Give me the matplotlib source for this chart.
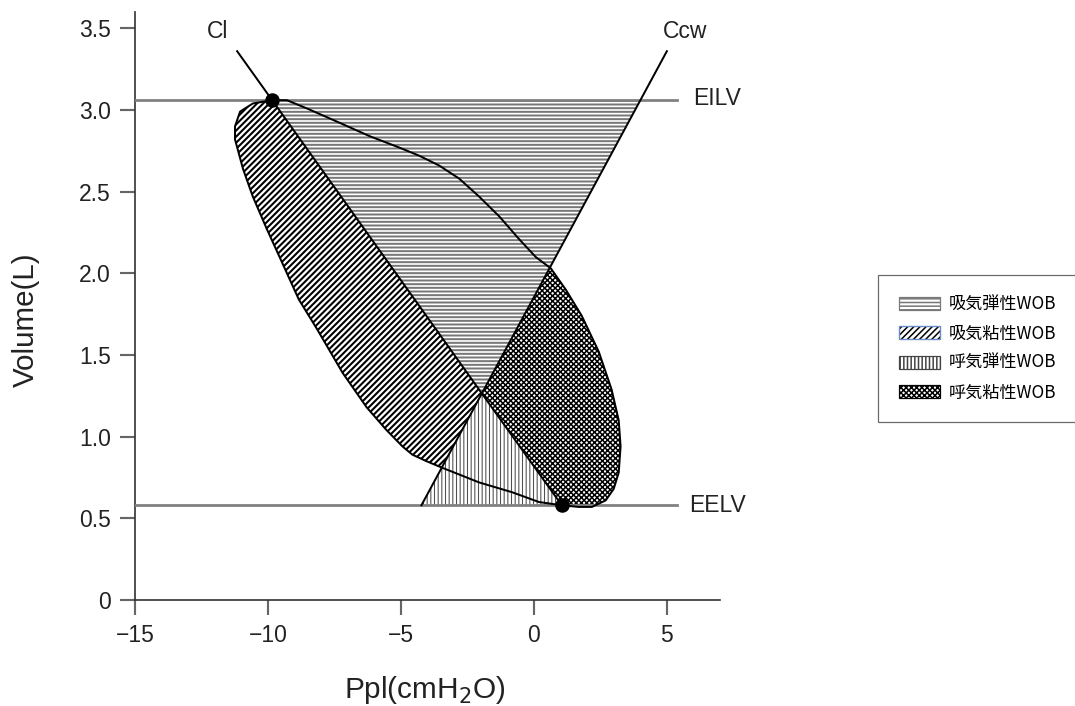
import matplotlib
matplotlib.use("Agg")
import matplotlib.pyplot as plt
from matplotlib.patches import Polygon, Patch
import numpy as np

plt.rcParams['font.family'] = ['Liberation Sans', 'DejaVu Sans']

# lung volume levels (L)
EILV = 3.06
EELV = 0.58

# compliance lines: two points each (Ppl, Volume)
cl_x = [-11.16, 1.05]
cl_v = [3.36, 0.58]
ccw_x = [-4.23, 5.0]
ccw_v = [0.58, 3.36]

# inspiratory limb, from end-expiration up to end-inspiration
insp_x = [1.05, 0.19, -0.82, -2.06, -3.45, -4.04, -4.57, -4.94, -5.54, -6.29,
          -7.19, -8.16, -8.84, -9.48, -10.04, -10.57, -10.94, -11.24, -11.24,
          -11.05, -10.57, -9.85]
insp_v = [0.58, 0.60, 0.66, 0.72, 0.81, 0.85, 0.89, 0.94, 1.04, 1.18,
          1.39, 1.66, 1.84, 2.07, 2.27, 2.47, 2.64, 2.82, 2.90,
          2.99, 3.04, 3.06]

# expiratory limb, from end-inspiration back down to end-expiration
exp_x = [-9.85, -9.29, -8.54, -7.42, -6.18, -5.06, -4.31, -3.56, -2.81, -2.06,
         -1.31, -0.56, 0.07, 0.64, 1.20, 1.80, 2.44, 2.92, 3.19, 3.26,
         3.19, 3.00, 2.70, 2.18, 1.69, 1.05]
exp_v = [3.06, 3.06, 3.01, 2.93, 2.84, 2.77, 2.72, 2.66, 2.58, 2.47,
         2.35, 2.21, 2.10, 2.03, 1.90, 1.74, 1.52, 1.29, 1.10, 0.94,
         0.78, 0.68, 0.61, 0.57, 0.57, 0.58]

legend_labels = ['吸気弾性WOB', '吸気粘性WOB', '呼気弾性WOB', '呼気粘性WOB']

x_ticks = [-15, -10, -5, 0, 5]
y_ticks = [0, 0.5, 1.0, 1.5, 2.0, 2.5, 3.0, 3.5]
y_ticklabels = ['0', '0.5', '1.0', '1.5', '2.0', '2.5', '3.0', '3.5']

# hatch styles: (pattern, colour, hatch line width)
H_INSP_EL = ('-----', '#777777', 1.3)
H_INSP_RES = ('//////', 'black', 1.35)
H_EXP_EL = ('|||||', '#505050', 0.7)
H_EXP_RES = ('xxxxxxx', 'black', 1.0)


def line_coef(xs, vs):
    slope = (vs[1] - vs[0]) / (xs[1] - xs[0])
    return slope, vs[0] - slope * xs[0]


def meet(a, b):
    # intersection of two lines given as (slope, intercept)
    x = (b[1] - a[1]) / (a[0] - b[0])
    return x, a[0] * x + a[1]


def on_level(a, v):
    return (v - a[1]) / a[0], v


def with_hatch_lw(p, hlw):
    if hasattr(p, 'set_hatch_linewidth'):
        p.set_hatch_linewidth(hlw)
    return p


def hatched(ax, pts, style, z):
    hatch, color, hlw = style
    with plt.rc_context({'hatch.linewidth': hlw}):
        p = Polygon(pts, closed=True, facecolor='white', edgecolor=color,
                    hatch=hatch, linewidth=0, zorder=z)
    ax.add_patch(with_hatch_lw(p, hlw))
    return p


def proxy(style, lw=0.8, edge=None):
    hatch, color, hlw = style
    with plt.rc_context({'hatch.linewidth': hlw}):
        p = Patch(facecolor='white', edgecolor=edge or color, hatch=hatch, lw=lw)
    return with_hatch_lw(p, hlw)


cl = line_coef(cl_x, cl_v)
ccw = line_coef(ccw_x, ccw_v)
cross = meet(cl, ccw)

fig = plt.figure(figsize=(1075 / 110, 706 / 110), dpi=110)
ax = fig.add_axes([0.1256, 0.1501, 0.5442, 0.8329])

# resistive work: loop limbs closed by the Cl line
hatched(ax, list(zip(insp_x, insp_v)), H_INSP_RES, 2)
hatched(ax, list(zip(exp_x, exp_v)), H_EXP_RES, 2)

# elastic work triangles
insp_el = [on_level(cl, EILV), on_level(ccw, EILV), cross]
exp_el = [on_level(ccw, EELV), on_level(cl, EELV), cross]
hatched(ax, insp_el, H_INSP_EL, 3)
hatched(ax, exp_el, H_EXP_EL, 3)

ax.plot(insp_x, insp_v, color='black', lw=1.3, zorder=5)
ax.plot(exp_x, exp_v, color='black', lw=1.3, zorder=5)
ax.plot(cl_x, cl_v, color='black', lw=1.3, zorder=5)
ax.plot(ccw_x, ccw_v, color='black', lw=1.3, zorder=5)

ax.plot([-15, 5.38], [EILV, EILV], color='#808080', lw=1.8, zorder=4)
ax.plot([-15, 5.38], [EELV, EELV], color='#808080', lw=1.8, zorder=4)
ax.plot([insp_x[-1], insp_x[0]], [insp_v[-1], insp_v[0]], 'o', color='black',
        ms=8.5, zorder=6)

lab = dict(fontsize=15, color='#222222', va='center')
ax.text(-11.88, 3.48, 'Cl', ha='center', **lab)
ax.text(5.68, 3.48, 'Ccw', ha='center', **lab)
ax.text(6.0, EILV + 0.01, 'EILV', ha='left', **lab)
ax.text(5.83, EELV, 'EELV', ha='left', **lab)

ax.set_xlim(-15, 7)
ax.set_ylim(0, 3.6)
for s in ('top', 'right'):
    ax.spines[s].set_visible(False)
for s in ('left', 'bottom'):
    ax.spines[s].set_color('#333333')
    ax.spines[s].set_linewidth(1.1)
ax.set_xticks(x_ticks)
ax.set_yticks(y_ticks)
ax.set_yticklabels(y_ticklabels)
ax.tick_params(direction='out', length=9.8, width=1.4, color='#666666',
               labelsize=15, labelcolor='#222222', pad=6)

ax.set_xlabel('Ppl(cmH$_2$O)', fontsize=19.5, color='#222222')
ax.xaxis.set_label_coords(0.496, -0.125)
ax.set_ylabel('Volume(L)', fontsize=19.3, color='#222222')
ax.yaxis.set_label_coords(-0.162, 0.476)

# legend proxies; the resistive inspiration swatch has a blue border
border = Patch(facecolor='none', edgecolor='#6a8cc8', lw=0.9)
handles = [proxy(H_INSP_EL), (proxy(H_INSP_RES, lw=0), border),
           proxy(H_EXP_EL, edge='#444444'), proxy(H_EXP_RES)]

leg = fig.legend(handles, legend_labels,
                 loc='upper left', bbox_to_anchor=(878 / 1075, 1 - 275 / 706),
                 borderaxespad=0, fancybox=False, frameon=True,
                 prop={'family': ['Noto Sans CJK JP', 'DejaVu Sans'], 'size': 11.2},
                 handlelength=2.4, handleheight=0.8, handletextpad=0.56,
                 labelspacing=0.66, borderpad=1.2)
leg.get_frame().set_edgecolor('#444444')
leg.get_frame().set_linewidth(0.8)

fig.savefig('out.png', dpi=110)
